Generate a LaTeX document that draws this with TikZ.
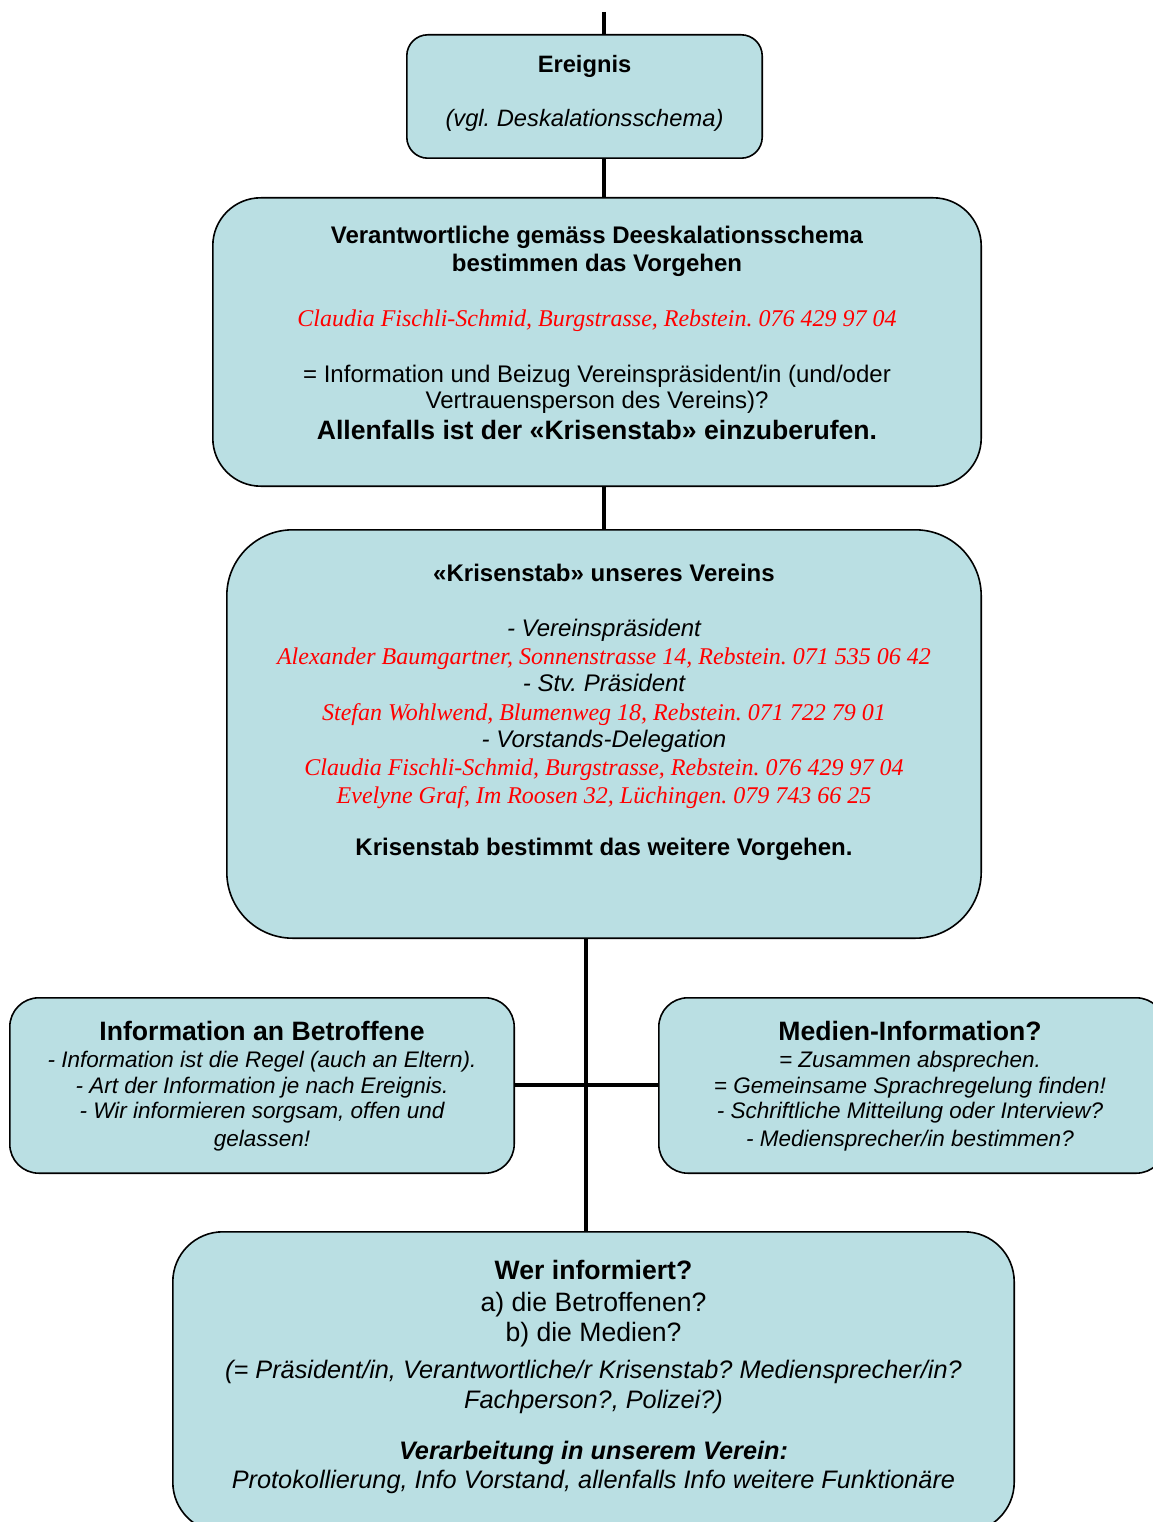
\documentclass[tikz,border=0pt]{standalone}
\usepackage{fontspec}
\setmainfont{Liberation Sans}
\newfontfamily\rmserif{Liberation Serif}
\definecolor{boxfill}{RGB}{186,223,227}
\definecolor{redtxt}{RGB}{255,0,0}
\frenchspacing
\begin{document}
\begin{tikzpicture}[x=1pt,y=-1pt,
  box/.style={draw=black,line width=1.6pt,fill=boxfill,inner sep=0pt},
  link/.style={line width=4.5pt,black},
  txt/.style={anchor=base,inner sep=0pt,font=\fontsize{24}{27}\selectfont},
  big/.style={font=\fontsize{26.6}{30}\selectfont\bfseries},
  small/.style={font=\fontsize{22.5}{26}\selectfont\itshape},
  redl/.style={text=redtxt,font=\fontsize{24}{27}\selectfont\rmserif\itshape}]
\useasboundingbox (0,0) rectangle (1152,1522);
\fill[white] (0,0) rectangle (1152,1522);

% boxes
\node[inner sep=0pt,minimum width=355pt,minimum height=123pt] (e) at (584.5,96.5) {};
\node[inner sep=0pt,minimum width=768pt,minimum height=288pt] (v) at (597,342) {};
\node[inner sep=0pt,minimum width=754pt,minimum height=408pt] (k) at (604,734) {};
\node[inner sep=0pt,minimum width=504pt,minimum height=175pt] (i) at (262,1085.5) {};
\node[inner sep=0pt,minimum width=506pt,minimum height=175pt] (m) at (912,1085.5) {};
\node[inner sep=0pt,minimum width=841pt,minimum height=300pt] (w) at (593.5,1382) {};
\draw[box,rounded corners=21pt] (e.north west) rectangle (e.south east);
\draw[box,rounded corners=48pt] (v.north west) rectangle (v.south east);
\draw[box,rounded corners=66pt] (k.north west) rectangle (k.south east);
\draw[box,rounded corners=29pt] (i.north west) rectangle (i.south east);
\draw[box,rounded corners=29pt] (m.north west) rectangle (m.south east);
\draw[box,rounded corners=50pt] (w.north west) rectangle (w.south east);

% connectors
\coordinate (top) at (604,12);
\coordinate (jx) at (586,1085);
\draw[link] (top) -- (e.north -| top);
\draw[link] (e.south -| top) -- (v.north -| top);
\draw[link] (v.south -| top) -- (k.north -| top);
\draw[link] (k.south -| jx) -- (w.north -| jx);
\draw[link] (i.east |- jx) -- (m.west |- jx);

% box 1
\node[txt,font=\fontsize{23.7}{27}\selectfont\bfseries] (e1) at (584.5,72.5) {Ereignis};
\node[txt,font=\fontsize{23.7}{27}\selectfont\itshape] (e2) at (584.5,127) {(vgl. Deskalationsschema)};

% box 2
\node[txt,font=\fontsize{24}{27}\selectfont\bfseries] (v1) at (597,243.5) {Verantwortliche gemäss Deeskalationsschema};
\node[txt,font=\fontsize{24}{27}\selectfont\bfseries] (v2) at (597,271.5) {bestimmen das Vorgehen};
\node[txt,redl] (v3) at (597,326) {Claudia Fischli-Schmid, Burgstrasse, Rebstein. 076 429 97 04};
\node[txt] (v4) at (597,382) {= Information und Beizug Vereinspräsident/in (und/oder};
\node[txt] (v5) at (597,408.5) {Vertrauensperson des Vereins)?};
\node[txt,big] (v6) at (597,439) {Allenfalls ist der «Krisenstab» einzuberufen.};

% box 3
\node[txt,font=\fontsize{24}{27}\selectfont\bfseries] (k1) at (604,581) {«Krisenstab» unseres Vereins};
\node[txt,font=\fontsize{24}{27}\selectfont\itshape] (k2) at (604,636) {- Vereinspräsident};
\node[txt,redl] (k3) at (604,664) {Alexander Baumgartner, Sonnenstrasse 14, Rebstein. 071 535 06 42};
\node[txt,font=\fontsize{24}{27}\selectfont\itshape] (k4) at (604,691) {- Stv. Präsident};
\node[txt,redl] (k5) at (604,720) {Stefan Wohlwend, Blumenweg 18, Rebstein. 071 722 79 01};
\node[txt,font=\fontsize{24}{27}\selectfont\itshape] (k6) at (604,747) {- Vorstands-Delegation};
\node[txt,redl] (k7) at (604,775) {Claudia Fischli-Schmid, Burgstrasse, Rebstein. 076 429 97 04};
\node[txt,redl] (k8) at (604,803) {Evelyne Graf, Im Roosen 32, Lüchingen. 079 743 66 25};
\node[txt,font=\fontsize{24}{27}\selectfont\bfseries] (k9) at (604,855) {Krisenstab bestimmt das weitere Vorgehen.};

% box 4
\node[txt,big] (i1) at (262,1040) {Information an Betroffene};
\node[txt,small] (i2) at (262,1067) {- Information ist die Regel (auch an Eltern).};
\node[txt,small] (i3) at (262,1093) {- Art der Information je nach Ereignis.};
\node[txt,small] (i4) at (262,1118) {- Wir informieren sorgsam, offen und};
\node[txt,small] (i5) at (262,1146) {gelassen!};

% box 5
\node[txt,big] (m1) at (910,1040) {Medien-Information?};
\node[txt,small] (m2) at (910,1067) {= Zusammen absprechen.};
\node[txt,small] (m3) at (910,1093) {= Gemeinsame Sprachregelung finden!};
\node[txt,small] (m4) at (910,1118) {- Schriftliche Mitteilung oder Interview?};
\node[txt,small] (m5) at (910,1146) {- Mediensprecher/in bestimmen?};

% box 6
\node[txt,big] (w1) at (593.5,1279) {Wer informiert?};
\node[txt,font=\fontsize{26.6}{30}\selectfont] (w2) at (593.5,1311) {a) die Betroffenen?};
\node[txt,font=\fontsize{26.6}{30}\selectfont] (w3) at (593.5,1341) {b) die Medien?};
\node[txt,font=\fontsize{25.3}{28}\selectfont\itshape] (w4) at (593.5,1378) {(= Präsident/in, Verantwortliche/r Krisenstab? Mediensprecher/in?};
\node[txt,font=\fontsize{25.3}{28}\selectfont\itshape] (w5) at (593.5,1408) {Fachperson?, Polizei?)};
\node[txt,font=\fontsize{25.3}{28}\selectfont\bfseries\itshape] (w6) at (593.5,1459) {Verarbeitung in unserem Verein:};
\node[txt,font=\fontsize{25.3}{28}\selectfont\itshape] (w7) at (593.5,1488) {Protokollierung, Info Vorstand, allenfalls Info weitere Funktionäre};
\end{tikzpicture}
\end{document}
